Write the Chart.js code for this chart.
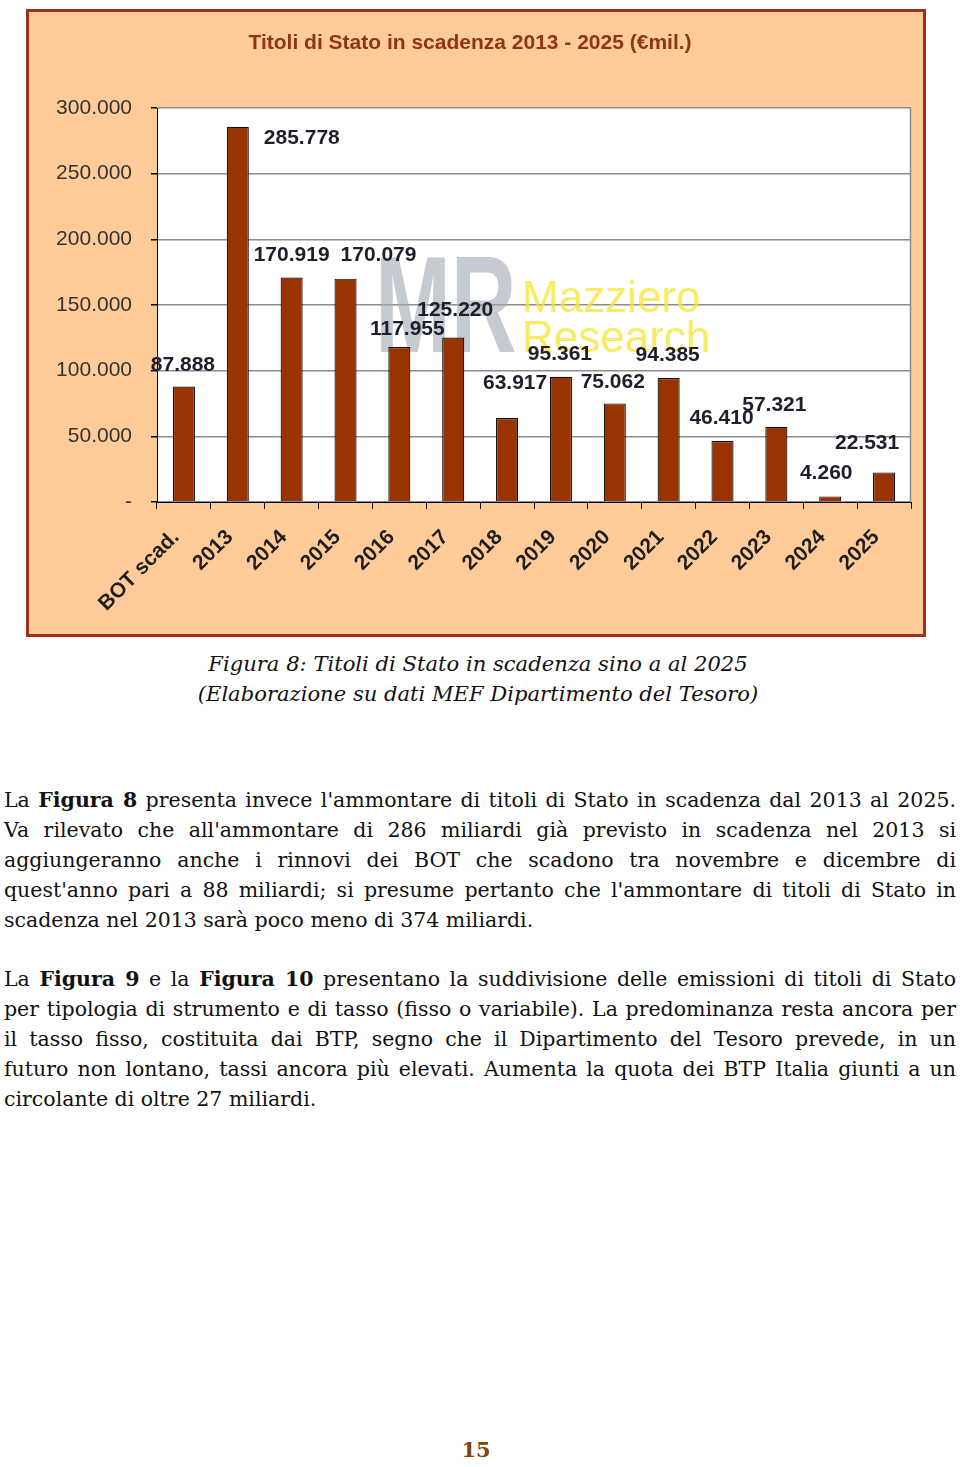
<!DOCTYPE html>
<html><head><meta charset="utf-8">
<script src="https://cdn.jsdelivr.net/npm/chart.js@4"></script>
<style>
html,body{margin:0;padding:0;background:#fff;width:960px;height:1467px;overflow:hidden;}
#box{position:absolute;left:26px;top:9px;width:894px;height:622px;border:3px solid #A0301A;background:#FFCC99;}
#box canvas{display:block;}
.t{position:absolute;left:4px;width:952px;font-family:"DejaVu Serif",serif;font-size:20.5px;line-height:30px;color:#111;}
.t div{text-align:justify;text-align-last:justify;white-space:nowrap;}
.t div.last{text-align-last:left;}
.cap{position:absolute;left:-2px;width:960px;text-align:center;font-family:"DejaVu Serif",serif;font-style:italic;font-size:21.1px;line-height:29.5px;color:#111;}
.pg{position:absolute;left:-4px;width:960px;text-align:center;top:1437px;font-family:"DejaVu Serif",serif;font-weight:bold;font-size:21px;color:#7A4510;}
</style></head>
<body>
<div id="box"><canvas id="c" width="894" height="622"></canvas></div>
<div class="cap" style="top:649px">Figura 8: Titoli di Stato in scadenza sino a al 2025<br>(Elaborazione su dati MEF Dipartimento del Tesoro)</div>
<div class="t" style="top:785px">
<div>La <b>Figura 8</b> presenta invece l'ammontare di titoli di Stato in scadenza dal 2013 al 2025.</div>
<div>Va rilevato che all'ammontare di 286 miliardi già previsto in scadenza nel 2013 si</div>
<div>aggiungeranno anche i rinnovi dei BOT che scadono tra novembre e dicembre di</div>
<div>quest'anno pari a 88 miliardi; si presume pertanto che l'ammontare di titoli di Stato in</div>
<div class="last">scadenza nel 2013 sarà poco meno di 374 miliardi.</div>
</div>
<div class="t" style="top:964px">
<div>La <b>Figura 9</b> e la <b>Figura 10</b> presentano la suddivisione delle emissioni di titoli di Stato</div>
<div>per tipologia di strumento e di tasso (fisso o variabile). La predominanza resta ancora per</div>
<div>il tasso fisso, costituita dai BTP, segno che il Dipartimento del Tesoro prevede, in un</div>
<div>futuro non lontano, tassi ancora più elevati. Aumenta la quota dei BTP Italia giunti a un</div>
<div class="last">circolante di oltre 27 miliardi.</div>
</div>
<div class="pg">15</div>
<script>
const TITLE = "Titoli di Stato in scadenza 2013 - 2025 (€mil.)";
const categories = ["BOT scad.","2013","2014","2015","2016","2017","2018","2019","2020","2021","2022","2023","2024","2025"];
const values = [87888,285778,170919,170079,117955,125220,63917,95361,75062,94385,46410,57321,4260,22531];
const yTicks = [0,50000,100000,150000,200000,250000,300000];
// label offsets (dx, dy) from the bar top centre, as placed in the original
const labelDx = [-1,64,0,33,8,2,8,-1,-2,-1,-1,-2,-4,-17];
const labelDy = [-21,12,-22,-23,-18,-27,-35,-23,-21,-23,-23,-22,-23,-29];

function fmt(v){
  if (v===0) return "-";
  return String(v).replace(/\B(?=(\d{3})+(?!\d))/g,".");
}
const SANS = "'Liberation Sans', Arial, sans-serif";

const plotBg = {
  id:'plotBg',
  beforeDraw(chart){
    const {ctx, chartArea:a} = chart;
    ctx.save(); ctx.fillStyle='#fff';
    ctx.fillRect(a.left,a.top,a.right-a.left,a.bottom-a.top);
    ctx.restore();
  },
  beforeDatasetsDraw(chart){
    const {ctx, chartArea:a} = chart;
    ctx.save();
    ctx.strokeStyle='#8c8c8c'; ctx.lineWidth=1.5;
    ctx.beginPath(); ctx.moveTo(a.right-0.5,a.top); ctx.lineTo(a.right-0.5,a.bottom); ctx.stroke();
    // watermark
    const x0 = a.left + 218, y0 = a.top + 142;
    ctx.save();
    ctx.translate(x0, y0+102);
    ctx.scale(0.66,1);
    ctx.font = "bold 138px " + SANS;
    ctx.fillStyle = 'rgba(160,168,178,0.6)';
    ctx.textBaseline='alphabetic';
    ctx.fillText("MR", 0, 0);
    ctx.restore();
    ctx.font = "44px " + SANS;
    ctx.fillStyle = 'rgba(245,228,50,0.75)';
    ctx.textBaseline='alphabetic';
    ctx.fillText("Mazziero", a.left+365, a.top+204);
    ctx.fillText("Research", a.left+365, a.top+244);
    ctx.restore();
  },
  afterDatasetsDraw(chart){
    const {ctx} = chart;
    const meta = chart.getDatasetMeta(0);
    ctx.save();
    ctx.font = "bold 21px " + SANS;
    ctx.fillStyle = '#1e1e2c';
    ctx.textAlign='center'; ctx.textBaseline='middle';
    meta.data.forEach((bar,i)=>{
      ctx.fillText(fmt(values[i]), bar.x+labelDx[i], bar.y+labelDy[i]);
    });
    ctx.restore();
  }
};

new Chart(document.getElementById('c'), {
  type:'bar',
  data:{labels:categories, datasets:[{data:values, backgroundColor:'#993300', borderColor:'#111', borderWidth:1.2, barPercentage:0.41, categoryPercentage:1}]},
  options:{
    responsive:false, animation:false,
    layout:{padding:{left:0,right:12,top:0,bottom:0}},
    plugins:{
      legend:{display:false}, tooltip:{enabled:false},
      title:{display:true, text:TITLE, color:'#8E3516', font:{family:SANS, size:21, weight:'bold', lineHeight:1.2}, padding:{top:19,bottom:51.8}}
    },
    scales:{
      x:{
        grid:{drawOnChartArea:false, drawTicks:true, tickLength:7, tickColor:'#000', offset:true},
        border:{display:true, color:'#000', width:1},
        ticks:{maxRotation:45, minRotation:45, autoSkip:false, labelOffset:-8, font:{family:SANS, size:21, weight:'bold'}, color:'#1e1e1e', padding:16},
        afterFit(s){ s.height = 132; }
      },
      y:{
        min:0, max:300000,
        afterBuildTicks(s){ s.ticks = yTicks.map(v=>({value:v})); },
        ticks:{callback:(v)=>fmt(v), font:{family:SANS, size:21}, color:'#333', padding:19},
        grid:{color:'#8c8c8c', lineWidth:1.5, tickColor:'#000', tickLength:6},
        border:{display:true, color:'#000', width:1},
        afterFit(s){ s.width = 128; }
      }
    }
  },
  plugins:[plotBg]
});
</script>
</body></html>
